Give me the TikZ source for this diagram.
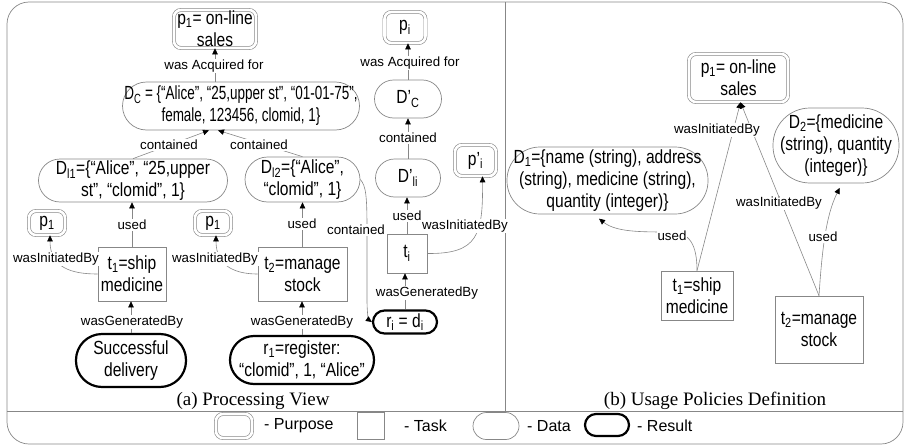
\documentclass[tikz,border=0pt]{standalone}
\usepackage{fontspec}
\setmainfont{Liberation Sans}
\newfontfamily\serifT{Liberation Serif}
\newfontfamily\nf{Liberation Sans}[FakeStretch=0.82]
\newfontfamily\nfc{Liberation Sans}[FakeStretch=0.71]
\usetikzlibrary{arrows.meta}
\definecolor{lg}{RGB}{135,135,135}
\begin{document}
\begin{tikzpicture}[x=1pt,y=-1pt,
  base/.style={font=\nf\fontsize{19}{22}\selectfont, align=center, inner sep=0pt, text=black},
  purpose/.style={base, draw=lg, line width=0.6pt, double=white, double distance=2.6pt, rounded corners=7pt},
  task/.style={base, draw=lg, line width=0.7pt},
  data/.style={base, draw=lg, line width=0.7pt},
  result/.style={base, draw=black, line width=2.2pt},
  lbl/.style={font=\fontsize{13.3}{15}\selectfont, fill=white, inner sep=1pt},
  conn/.style={draw=lg, line width=0.6pt, -{Triangle[length=6pt,width=5.5pt,color=black]}},
  ttl/.style={font=\serifT\fontsize{19}{21}\selectfont},
  leg/.style={font=\fontsize{16}{18}\selectfont, anchor=west, inner sep=0pt}
]
\useasboundingbox (0,0) rectangle (905,447);
% frame
\draw[lg, line width=0.7pt, rounded corners=22pt] (7,2) rectangle (903,444);
\draw[lg, line width=0.7pt] (7,411) -- (903,411);
\draw[lg, line width=0.7pt] (505,2) -- (505,411);

% ---------- left panel nodes
\node[purpose, minimum width=82pt, minimum height=38pt] (pA) at (215,29) {p\textsubscript{1}= on-line\\sales};
\node[data, font=\nfc\fontsize{19}{22}\selectfont, minimum width=237pt, minimum height=48pt, rounded corners=24pt] (DC) at (241,106) {D\textsubscript{C} = \{“Alice”, “25,upper st”, “01-01-75”,\\female, 123456, clomid, 1\}};
\node[data, minimum width=189pt, minimum height=43pt, rounded corners=21.5pt] (Dl1) at (133,180.5) {D\textsubscript{l1}=\{“Alice”, “25,upper\\st”, “clomid”, 1\}};
\node[data, minimum width=115pt, minimum height=45pt, rounded corners=22.5pt] (Dl2) at (302.5,179.5) {D\textsubscript{l2}=\{“Alice”,\\“clomid”, 1\}};
\node[purpose, minimum width=36pt, minimum height=24pt] (pB) at (47,223) {p\textsubscript{1}};
\node[purpose, minimum width=36pt, minimum height=24pt] (pC) at (213,223) {p\textsubscript{1}};
\node[task, minimum width=68pt, minimum height=54pt] (t1L) at (132,274) {t\textsubscript{1}=ship\\medicine};
\node[task, minimum width=89pt, minimum height=54pt] (t2L) at (302.5,274) {t\textsubscript{2}=manage\\stock};
\node[result, minimum width=110pt, minimum height=53pt, rounded corners=26pt] (succ) at (131,360.5) {Successful\\delivery};
\node[result, minimum width=144pt, minimum height=48pt, rounded corners=24pt] (r1) at (302,360) {r\textsubscript{1}=register:\\“clomid”, 1, “Alice”};
\node[result, minimum width=64pt, minimum height=23pt, rounded corners=11.5pt] (ri) at (405,322) {r\textsubscript{i} = d\textsubscript{i}};
\node[task, minimum width=40pt, minimum height=39pt] (ti) at (407,253.5) {t\textsubscript{i}};
\node[data, minimum width=65pt, minimum height=38pt, rounded corners=19pt] (Dli) at (408,178) {D’\textsubscript{li}};
\node[data, minimum width=67pt, minimum height=38pt, rounded corners=19pt] (DCp) at (408,99) {D’\textsubscript{C}};
\node[purpose, minimum width=41pt, minimum height=31pt] (pi) at (405,27.5) {p\textsubscript{i}};
\node[purpose, minimum width=41pt, minimum height=31pt] (ppi) at (475.5,160.5) {p’\textsubscript{i}};

% ---------- right panel nodes
\node[purpose, minimum width=99pt, minimum height=48pt] (pR) at (738.5,78) {p\textsubscript{1}= on-line\\sales};
\node[data, minimum width=201pt, minimum height=67pt, rounded corners=33pt] (D1) at (607.5,180.5) {D\textsubscript{1}=\{name (string), address\\(string), medicine (string),\\quantity (integer)\}};
\node[data, minimum width=126pt, minimum height=75pt, rounded corners=37pt] (D2) at (836,145.5) {D\textsubscript{2}=\{medicine\\(string), quantity\\(integer)\}};
\node[task, minimum width=72pt, minimum height=49pt] (t1R) at (697,295.5) {t\textsubscript{1}=ship\\medicine};
\node[task, minimum width=88pt, minimum height=67pt] (t2R) at (819,329.5) {t\textsubscript{2}=manage\\stock};

% ---------- connectors left
\draw[conn] (DC.north -| pA.south) -- (pA.south);
\draw[conn] (Dl1.north) -- ([xshift=-32pt]DC.south);
\draw[conn] (Dl2.north) -- ([xshift=-23pt]DC.south);
\draw[conn] (t1L.north) -- (t1L.north |- Dl1.south);
\draw[conn] (t2L.north) -- (t2L.north |- Dl2.south);
\draw[conn] (t1L.west) .. controls (72,274) and (50,268) .. ([xshift=3pt]pB.south);
\draw[conn] (t2L.west) .. controls (238,274) and (216,268) .. ([xshift=3pt]pC.south);
\draw[conn] (succ.north) -- (succ.north |- t1L.south);
\draw[conn] (r1.north) -- (r1.north |- t2L.south);
\draw[conn] (ri.north) -- (ri.north |- ti.south);
\draw[conn] (ti.north) -- (ti.north |- Dli.south);
\draw[conn] (Dli.north) -- (Dli.north |- DCp.south);
\draw[conn] (DCp.north) -- (DCp.north |- pi.south);
\draw[conn] (Dl2.east) .. controls (366,186) and (367,196) .. (367,230) -- (367,300) .. controls (367,315) and (369,320) .. (ri.west);
\draw[conn] (ti.east) .. controls (478,254) and (483,235) .. ([xshift=7pt]ppi.south);

% ---------- connectors right
\draw[conn] (t1R.north) -- ([xshift=2pt]pR.south);
\draw[conn] (t2R.north) -- ([xshift=2pt]pR.south);
\draw[conn, shorten >=7pt] (t1R.north) .. controls (697,245) and (690,232) .. (670,232) .. controls (640,232) and (616,232) .. ([xshift=-14pt]D1.south);
\draw[conn, shorten >=5pt] (t2R.north) .. controls (822,250) and (826,215) .. ([xshift=6pt]D2.south);

% ---------- labels
\node[lbl] (la1) at (214,66) {was Acquired for};
\node[lbl] (la2) at (169,145) {contained};
\node[lbl] (la3) at (259,145) {contained};
\node[lbl] (la4) at (132,225) {used};
\node[lbl] (la5) at (302,224) {used};
\node[lbl] (la6) at (56,259) {wasInitiatedBy};
\node[lbl] (la7) at (215,259) {wasInitiatedBy};
\node[lbl] (la8) at (132,322) {wasGeneratedBy};
\node[lbl] (la9) at (302,322) {wasGeneratedBy};
\node[lbl] (la10) at (356,230) {contained};
\node[lbl] (la11) at (407,216) {used};
\node[lbl] (la12) at (408,138) {contained};
\node[lbl] (la13) at (410,63) {was Acquired for};
\node[lbl] (la14) at (427,293) {wasGeneratedBy};
\node[lbl] (la15) at (465,226) {wasInitiatedBy};
\node[lbl] (lb1) at (717,130) {wasInitiatedBy};
\node[lbl] (lb2) at (779,203) {wasInitiatedBy};
\node[lbl] (lb3) at (672,236) {used};
\node[lbl] (lb4) at (823,237) {used};

% ---------- titles
\node[ttl] (ta) at (253,401) {(a) Processing View};
\node[ttl] (tb) at (715,401) {(b) Usage Policies Definition};

% ---------- legend
\node[purpose, minimum width=36pt, minimum height=24pt] (legP) at (234,426) {};
\node[leg] (legPt) at (264,426) {- Purpose};
\node[task, minimum width=27pt, minimum height=27pt] (legT) at (371,426) {};
\node[leg] (legTt) at (404,426) {- Task};
\node[data, minimum width=46pt, minimum height=27pt, rounded corners=13.5pt] (legD) at (496,426) {};
\node[leg] (legDt) at (527,426) {- Data};
\node[result, minimum width=44pt, minimum height=22pt, rounded corners=11pt] (legR) at (607,425) {};
\node[leg] (legRt) at (637,426) {- Result};
\end{tikzpicture}
\end{document}
